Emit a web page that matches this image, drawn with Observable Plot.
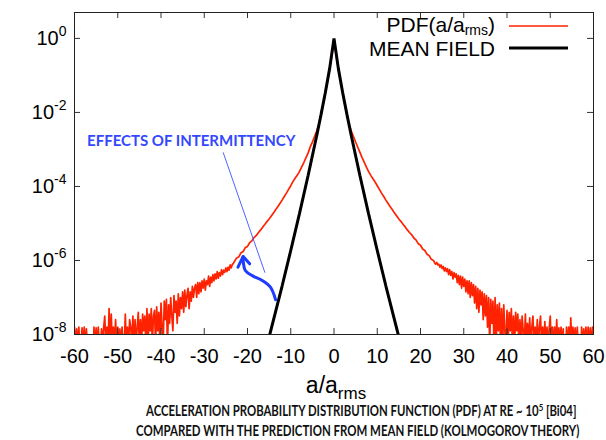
<!DOCTYPE html>
<html><head><meta charset="utf-8">
<script src="https://cdn.jsdelivr.net/npm/d3@7"></script>
<script src="https://cdn.jsdelivr.net/npm/@observablehq/plot@0.6"></script>
<style>body{margin:0;background:#fff}</style>
</head><body><div id="chart"></div>
<script>
// ---- axis ticks ----
const xTicks = [-60,-50,-40,-30,-20,-10,0,10,20,30,40,50,60];
const yTickExps = [0,-2,-4,-6,-8];
const yDomainExps = [-8, 0.7];

// ---- PDF(a/a_rms): log10 values ----
// noisy tails sampled every 0.25, smooth core every 0.5
const tailStep = 0.25, coreStep = 0.5;
const leftTailStart = -60;
const leftTailLog = [
 -7.8,-8.3,-7.85,-8.3,   -7.8,-8.3,-8.3,-7.82,   -8.3,-7.8,-8.3,-7.85,   -8.3,-9,-9,-9,
 -9,-9,-7.8,-8.3,        -7.82,-8.3,-7.8,-8.3,   -8.3,-7.85,-8.3,-7.8,   -7.5,-8.3,-7.8,-8.3,
 -7.3,-8.3,-7.45,-8.3,   -7.8,-8.3,-7.6,-8.3,    -7.8,-8.3,-7.85,-8.3,   -7.8,-8.3,-8.3,-7.45,
 -8.3,-7.8,-8.3,-7.6,    -7.8,-8.3,-7.5,-8.3,    -7.6,-8.3,-7.8,-7.4,    -8.3,-7.6,-8.3,-7.45,
 -7.9,-7.5,-8.3,-7.3,    -8.3,-7.45,-7.9,-7.3,   -8.3,-7.5,-7.35,-8.3,   -7.25,-7.9,-7.4,-8.3,
 -7.15,-7.8,-8.3,-7.1,   -7.6,-7.05,-8.3,-7.2,   -7.7,-7.0,-7.5,-7.9,    -6.95,-7.4,-7.1,-7.7,
 -6.9,-7.5,-7.0,-7.3,    -6.85,-7.4,-6.8,-7.25,  -6.95,-6.75,-7.3,-6.85, -7.1,-6.7,-7.0,-6.75,
 -6.65,-7.0,-6.6,-6.9,   -6.6,-6.85,-6.55,-6.75, -6.5,-6.8,-6.55,-6.65,  -6.42,-6.7,-6.45,-6.6,
 -6.38,-6.55,-6.36,-6.5, -6.3,-6.48,-6.33,-6.42, -6.25,-6.38,-6.26,-6.32, -6.2,-6.3,-6.18,-6.26,
 -6.12,-6.2,-6.1,-6.08
];
const coreStart = -23;
const coreLog = [
 -6.02,-5.93,-5.9,-5.79,-5.76,-5.65,-5.62,-5.52,-5.47,-5.38,
 -5.33,-5.25,-5.18,-5.1,-5.03,-4.95,-4.88,-4.8,-4.72,-4.63,
 -4.55,-4.46,-4.37,-4.27,-4.18,-4.08,-3.98,-3.87,-3.78,-3.7,
 -3.6,-3.48,-3.36,-3.23,-3.1,-2.93,-2.8,-2.65,-2.5,-2.32,
 -2.06,-1.77,-1.47,-1.15,-0.82,-0.45,-0.06,
 -0.45,-0.82,-1.15,-1.47,-1.77,-2.06,-2.32,-2.5,-2.65,-2.8,
 -2.94,-3.08,-3.22,-3.35,-3.48,-3.6,-3.7,-3.79,-3.88,-3.98,
 -4.08,-4.18,-4.27,-4.37,-4.46,-4.55,-4.63,-4.72,-4.8,-4.88,
 -4.95,-5.03,-5.1,-5.18,-5.25,-5.31,-5.4,-5.45,-5.55,-5.59,
 -5.69,-5.73,-5.83,-5.87,-5.97,-6.0
];
const rightTailStart = 23.25;
const rightTailLog = [
 -6.06,-6.1,-6.05,-6.12,  -6.1,-6.18,-6.12,-6.22,  -6.16,-6.28,-6.2,-6.3,   -6.22,-6.38,-6.25,-6.4,
 -6.3,-6.5,-6.33,-6.45,   -6.36,-6.6,-6.4,-6.65,   -6.42,-6.75,-6.45,-6.7,  -6.5,-6.85,-6.55,-6.9,
 -6.55,-7.0,-6.6,-6.95,   -6.65,-7.15,-6.7,-7.3,   -6.75,-7.4,-6.8,-7.2,    -6.85,-7.6,-6.9,-7.5,
 -6.95,-7.8,-7.0,-8.3,    -7.05,-7.7,-7.1,-8.3,    -7.0,-8.3,-7.2,-7.9,     -7.15,-8.3,-7.3,-8.3,
 -7.2,-7.9,-8.3,-7.35,    -8.3,-7.4,-7.9,-7.3,     -8.3,-7.5,-8.3,-7.4,     -7.9,-7.45,-8.3,-7.6,
 -8.3,-7.5,-7.9,-8.3,     -7.45,-8.3,-7.7,-8.3,    -7.55,-8.3,-7.8,-7.5,    -8.3,-7.8,-8.3,-7.6,
 -8.3,-7.8,-7.5,-8.3,     -7.8,-8.3,-7.65,-8.3,    -7.8,-8.3,-7.85,-7.5,    -8.3,-7.8,-8.3,-7.8,
 -8.3,-7.6,-8.3,-7.82,    -8.3,-7.8,-8.3,-7.85,    -9,-9,-7.8,-8.3,         -7.8,-8.3,-7.55,-8.3,
 -7.8,-8.3,-7.82,-8.3,    -7.8,-8.3,-9,-9,         -7.8,-8.3,-7.85,-8.3,    -7.8,-8.3,-7.8,-8.3,
 -7.82,-8.3,-7.8,-8.3
];

// ---- Mean field (Kolmogorov) prediction ----
const meanX   = [-14.85,-12,-10,-8,-6,-4,-3,-2,-1,0,1,2,3,4,6,8,10,12,14.85];
const meanLog = [-8,-6.69,-5.73,-4.74,-3.71,-2.63,-2.06,-1.46,-0.81,0,-0.81,-1.46,-2.06,-2.63,-3.71,-4.74,-5.73,-6.69,-8];

// ---- annotation ----
const annotText = "EFFECTS OF INTERMITTENCY";
const annotPos = {a: -57.1, log: -2.77};
const pointerA = [-25.6, -16.0], pointerLog = [-3.09, -6.32];
const arrowA   = [-13.5, -14.7, -16.6, -18.9, -20.5, -21.0, -21.0];
const arrowLog = [-7.06, -6.72, -6.54, -6.41, -6.27, -6.0, -5.89];
const headA    = [-22.2, -21.0, -19.5];
const headLog  = [-6.18, -5.89, -6.09];

const caption1 = "ACCELERATION PROBABILITY DISTRIBUTION FUNCTION (PDF) AT RE ~ 10";
const caption1b = "5";
const caption1c = " [Bi04]";
const caption2 = "COMPARED WITH THE PREDICTION FROM MEAN FIELD (KOLMOGOROV THEORY)";

// ---- build tables ----
const seg = (start, step, arr) => arr.map((v, i) => ({a: start + i * step, p: Math.pow(10, v)}));
const pdf = [...seg(leftTailStart, tailStep, leftTailLog), ...seg(coreStart, coreStep, coreLog), ...seg(rightTailStart, tailStep, rightTailLog)];
const mean = meanX.map((a, i) => ({a, p: Math.pow(10, meanLog[i])}));
const pointer = pointerA.map((a, i) => ({a, p: Math.pow(10, pointerLog[i])}));
const arrow = arrowA.map((a, i) => ({a, p: Math.pow(10, arrowLog[i])}));
const head = headA.map((a, i) => ({a, p: Math.pow(10, headLog[i])}));
const yTicks = yTickExps.map(e => Math.pow(10, e));

const W = 606, H = 440, mL = 74, mR = 13, mT = 12, mB = 106;
const fw = W - mL - mR, fh = H - mT - mB, tk = 6;

const plot = Plot.plot({
  width: W, height: H,
  marginLeft: mL, marginRight: mR, marginTop: mT, marginBottom: mB,
  style: {fontFamily: "'Liberation Sans', Arial, sans-serif", fontSize: "20px", background: "white", color: "black"},
  x: {domain: [-60, 60], label: null},
  y: {type: "log", domain: yDomainExps.map(e => Math.pow(10, e)), label: null},
  marks: [
    Plot.line(pdf, {x: "a", y: "p", stroke: "#ff2200", strokeWidth: 1.7, clip: true}),
    Plot.line(mean, {x: "a", y: "p", stroke: "black", strokeWidth: 3, strokeLinejoin: "miter", clip: true}),
    Plot.line(pointer, {x: "a", y: "p", stroke: "#3a52ff", strokeWidth: 0.9}),
    Plot.line(arrow, {x: "a", y: "p", stroke: "#1d3cff", strokeWidth: 3, curve: "catmull-rom"}),
    Plot.line(head, {x: "a", y: "p", stroke: "#1d3cff", strokeWidth: 3, strokeLinejoin: "miter"}),
    Plot.text([annotText], {x: () => annotPos.a, y: () => Math.pow(10, annotPos.log), text: d => d,
      textAnchor: "start", fill: "#3448ff", fontWeight: "bold", fontFamily: "Lato, 'Open Sans', sans-serif", fontSize: 15}),
    Plot.ruleX(xTicks, {stroke: "#333", insetTop: fh - tk}),
    Plot.ruleX(xTicks, {stroke: "#333", insetBottom: fh - tk}),
    Plot.ruleY(yTicks, {stroke: "#333", insetRight: fw - tk}),
    Plot.ruleY(yTicks, {stroke: "#333", insetLeft: fw - tk}),
    Plot.frame({stroke: "#222", strokeWidth: 1}),
    Plot.axisX(xTicks, {tickSize: 0, tickPadding: 14, tickFormat: d => String(d), fontSize: 20}),
    Plot.axisY(yTicks, {tickSize: 0, tickPadding: 8, tickFormat: d => "10|" + Math.round(Math.log10(d)), fontSize: 20})
  ]
});
document.getElementById("chart").appendChild(plot);

const svg = d3.select(plot);
// superscripts on y tick labels
svg.selectAll('g[aria-label="y-axis tick label"] text').each(function() {
  const t = d3.select(this);
  const parts = this.textContent.split("|");
  t.text(parts[0]);
  t.append("tspan").attr("dy", -9).attr("font-size", 14).text(parts[1]);
});

const font = "'Liberation Sans', Arial, sans-serif";
// x-axis title
const xt = svg.append("text").attr("x", 336).attr("y", 393).attr("text-anchor", "middle")
  .attr("font-family", font).attr("font-size", 23).attr("fill", "black");
xt.append("tspan").text("a/a");
xt.append("tspan").attr("font-size", 17).attr("dy", 6).text("rms");

// legend
const lg1 = svg.append("text").attr("x", 495).attr("y", 32).attr("text-anchor", "end")
  .attr("font-family", font).attr("font-size", 21).attr("fill", "black");
lg1.append("tspan").text("PDF(a/a");
lg1.append("tspan").attr("font-size", 14).attr("dy", 3).text("rms");
lg1.append("tspan").attr("dy", -3).text(")");
svg.append("line").attr("x1", 509).attr("x2", 568).attr("y1", 26).attr("y2", 26)
  .attr("stroke", "#ff2200").attr("stroke-width", 1.5);
svg.append("text").attr("x", 495).attr("y", 56).attr("text-anchor", "end")
  .attr("font-family", font).attr("font-size", 21).attr("fill", "black").text("MEAN FIELD");
svg.append("line").attr("x1", 509).attr("x2", 568).attr("y1", 48).attr("y2", 48)
  .attr("stroke", "black").attr("stroke-width", 3);

// caption: two lines, narrowed horizontally to the reference widths
const cf = "Lato, 'Open Sans', sans-serif";
function captionLine(x0, y, width, build) {
  const g = svg.append("g");
  const t = g.append("text").attr("x", 0).attr("y", 0).attr("text-anchor", "start")
    .attr("font-family", cf).attr("font-weight", "bold").attr("font-size", 14.5).attr("fill", "#111");
  build(t);
  const len = t.node().getComputedTextLength() || width;
  g.attr("transform", `translate(${x0},${y}) scale(${width / len},1)`);
}
captionLine(146, 416, 431, t => {
  t.append("tspan").text(caption1);
  t.append("tspan").attr("font-size", 10).attr("dy", -5).text(caption1b);
  t.append("tspan").attr("dy", 5).text(caption1c);
});
captionLine(136, 436, 444, t => t.text(caption2));
</script>
</body></html>
